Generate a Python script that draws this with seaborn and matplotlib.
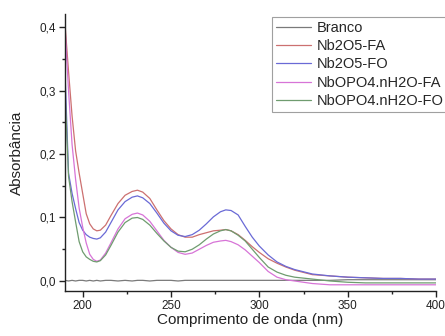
import numpy as np
import pandas as pd
import matplotlib
matplotlib.use("Agg")
import matplotlib.pyplot as plt
from matplotlib.ticker import MultipleLocator, FuncFormatter
from matplotlib.lines import Line2D
import seaborn as sns

wavelength = [190, 192, 194, 196, 198, 200, 202, 204, 206, 208, 210, 213, 216, 220, 224, 228, 231,
              234, 238, 242, 246, 250, 254, 258, 262, 266, 270, 274, 278, 281, 284, 288, 292, 296,
              300, 305, 310, 315, 320, 330, 340, 350, 360, 370, 380, 390, 400]

branco = [0.001, 0.000, 0.001, 0.000, 0.001, 0.001, 0.000, 0.001, 0.000, 0.001, 0.000, 0.001, 0.001,
          0.000, 0.001, 0.000, 0.001, 0.001, 0.000, 0.001, 0.001, 0.001, 0.000, 0.001, 0.001, 0.001,
          0.001, 0.001, 0.001, 0.001, 0.001, 0.001, 0.001, 0.001, 0.001, 0.001, 0.001, 0.001, 0.001,
          0.001, 0.001, 0.002, 0.002, 0.002, 0.002, 0.002, 0.002]

nb2o5_fa = [0.405, 0.330, 0.260, 0.205, 0.170, 0.138, 0.106, 0.090, 0.082, 0.079, 0.080, 0.088, 0.103,
            0.122, 0.135, 0.141, 0.143, 0.140, 0.130, 0.112, 0.095, 0.082, 0.073, 0.069, 0.069, 0.073,
            0.076, 0.079, 0.080, 0.081, 0.079, 0.073, 0.064, 0.054, 0.045, 0.035, 0.028, 0.022, 0.017,
            0.010, 0.008, 0.006, 0.005, 0.004, 0.004, 0.003, 0.003]

nb2o5_fo = [0.330, 0.170, 0.138, 0.114, 0.092, 0.080, 0.073, 0.069, 0.067, 0.066, 0.068, 0.077, 0.092,
            0.112, 0.125, 0.132, 0.134, 0.131, 0.122, 0.107, 0.091, 0.079, 0.072, 0.070, 0.073, 0.080,
            0.090, 0.101, 0.109, 0.112, 0.111, 0.104, 0.086, 0.069, 0.055, 0.041, 0.030, 0.023, 0.018,
            0.011, 0.008, 0.006, 0.005, 0.004, 0.004, 0.003, 0.003]

nbopo4_fa = [0.400, 0.300, 0.215, 0.160, 0.115, 0.085, 0.060, 0.042, 0.034, 0.031, 0.033, 0.044, 0.060,
             0.082, 0.098, 0.105, 0.107, 0.104, 0.094, 0.079, 0.064, 0.053, 0.045, 0.042, 0.044, 0.050,
             0.056, 0.061, 0.063, 0.064, 0.062, 0.057, 0.049, 0.039, 0.029, 0.015, 0.006, 0.002, 0.000,
             -0.004, -0.006, -0.006, -0.006, -0.006, -0.006, -0.006, -0.006]

nbopo4_fo = [0.300, 0.165, 0.125, 0.093, 0.062, 0.046, 0.038, 0.034, 0.031, 0.030, 0.032, 0.041, 0.056,
             0.077, 0.092, 0.099, 0.100, 0.097, 0.088, 0.075, 0.063, 0.053, 0.047, 0.046, 0.050, 0.057,
             0.066, 0.074, 0.079, 0.081, 0.079, 0.072, 0.063, 0.050, 0.037, 0.022, 0.014, 0.009, 0.006,
             0.003, 0.000, -0.002, -0.003, -0.003, -0.003, -0.003, -0.003]

series_names = ["Branco", "Nb2O5-FA", "Nb2O5-FO", "NbOPO4.nH2O-FA", "NbOPO4.nH2O-FO"]
series_values = [branco, nb2o5_fa, nb2o5_fo, nbopo4_fa, nbopo4_fo]
colors = ["#7a7a7a", "#cc7070", "#6a6ad6", "#d774d7", "#6f9c6f"]

rows = []
for name, vals in zip(series_names, series_values):
    for w, v in zip(wavelength, vals):
        rows.append({"wl": w, "abs": v, "series": name})
df = pd.DataFrame(rows)

sns.set_theme(style="ticks")
plt.rcParams["font.family"] = ["Liberation Sans", "DejaVu Sans"]

fig = plt.figure(figsize=(4.45, 3.36), dpi=100)
ax = fig.add_axes([65 / 445, 1 - 290.7 / 336, (436 - 65) / 445, (290.7 - 14) / 336])

sns.lineplot(data=df, x="wl", y="abs", hue="series", hue_order=series_names,
             palette=dict(zip(series_names, colors)), sort=False, estimator=None,
             linewidth=0.9, ax=ax, legend=False)

ax.set_xlim(190, 400)
ax.set_ylim(-0.0153, 0.4205)
ax.xaxis.set_major_locator(MultipleLocator(50))
ax.xaxis.set_minor_locator(MultipleLocator(25))
ax.yaxis.set_major_locator(MultipleLocator(0.1))
ax.yaxis.set_minor_locator(MultipleLocator(0.05))
ax.yaxis.set_major_formatter(FuncFormatter(lambda v, p: f"{v:.1f}".replace(".", ",")))
ax.tick_params(axis="both", which="major", length=4, width=1, labelsize=8.5, color="#222222",
               labelcolor="#222222", pad=2.5)
ax.tick_params(axis="both", which="minor", length=2.5, width=1, color="#222222")
for s in ["top", "right"]:
    ax.spines[s].set_visible(False)
for s in ["left", "bottom"]:
    ax.spines[s].set_color("#222222")
    ax.spines[s].set_linewidth(1)

ax.set_xlabel("Comprimento de onda (nm)", fontsize=11, color="#222222", labelpad=1)
ax.set_ylabel("Absorbância", fontsize=11, color="#222222", labelpad=11)

handles = [Line2D([], [], color=c, lw=0.9) for c in colors]
leg = fig.legend(handles, series_names, loc="upper left", bbox_to_anchor=(272 / 445, 1 - 17 / 336),
                 bbox_transform=fig.transFigure, fontsize=10.5, frameon=True, fancybox=False,
                 borderpad=0.25, labelspacing=0.3, handlelength=2.4, handletextpad=0.45,
                 borderaxespad=0)
leg.get_frame().set_edgecolor("#888888")
leg.get_frame().set_linewidth(0.8)

fig.savefig("out.png", dpi=100)
